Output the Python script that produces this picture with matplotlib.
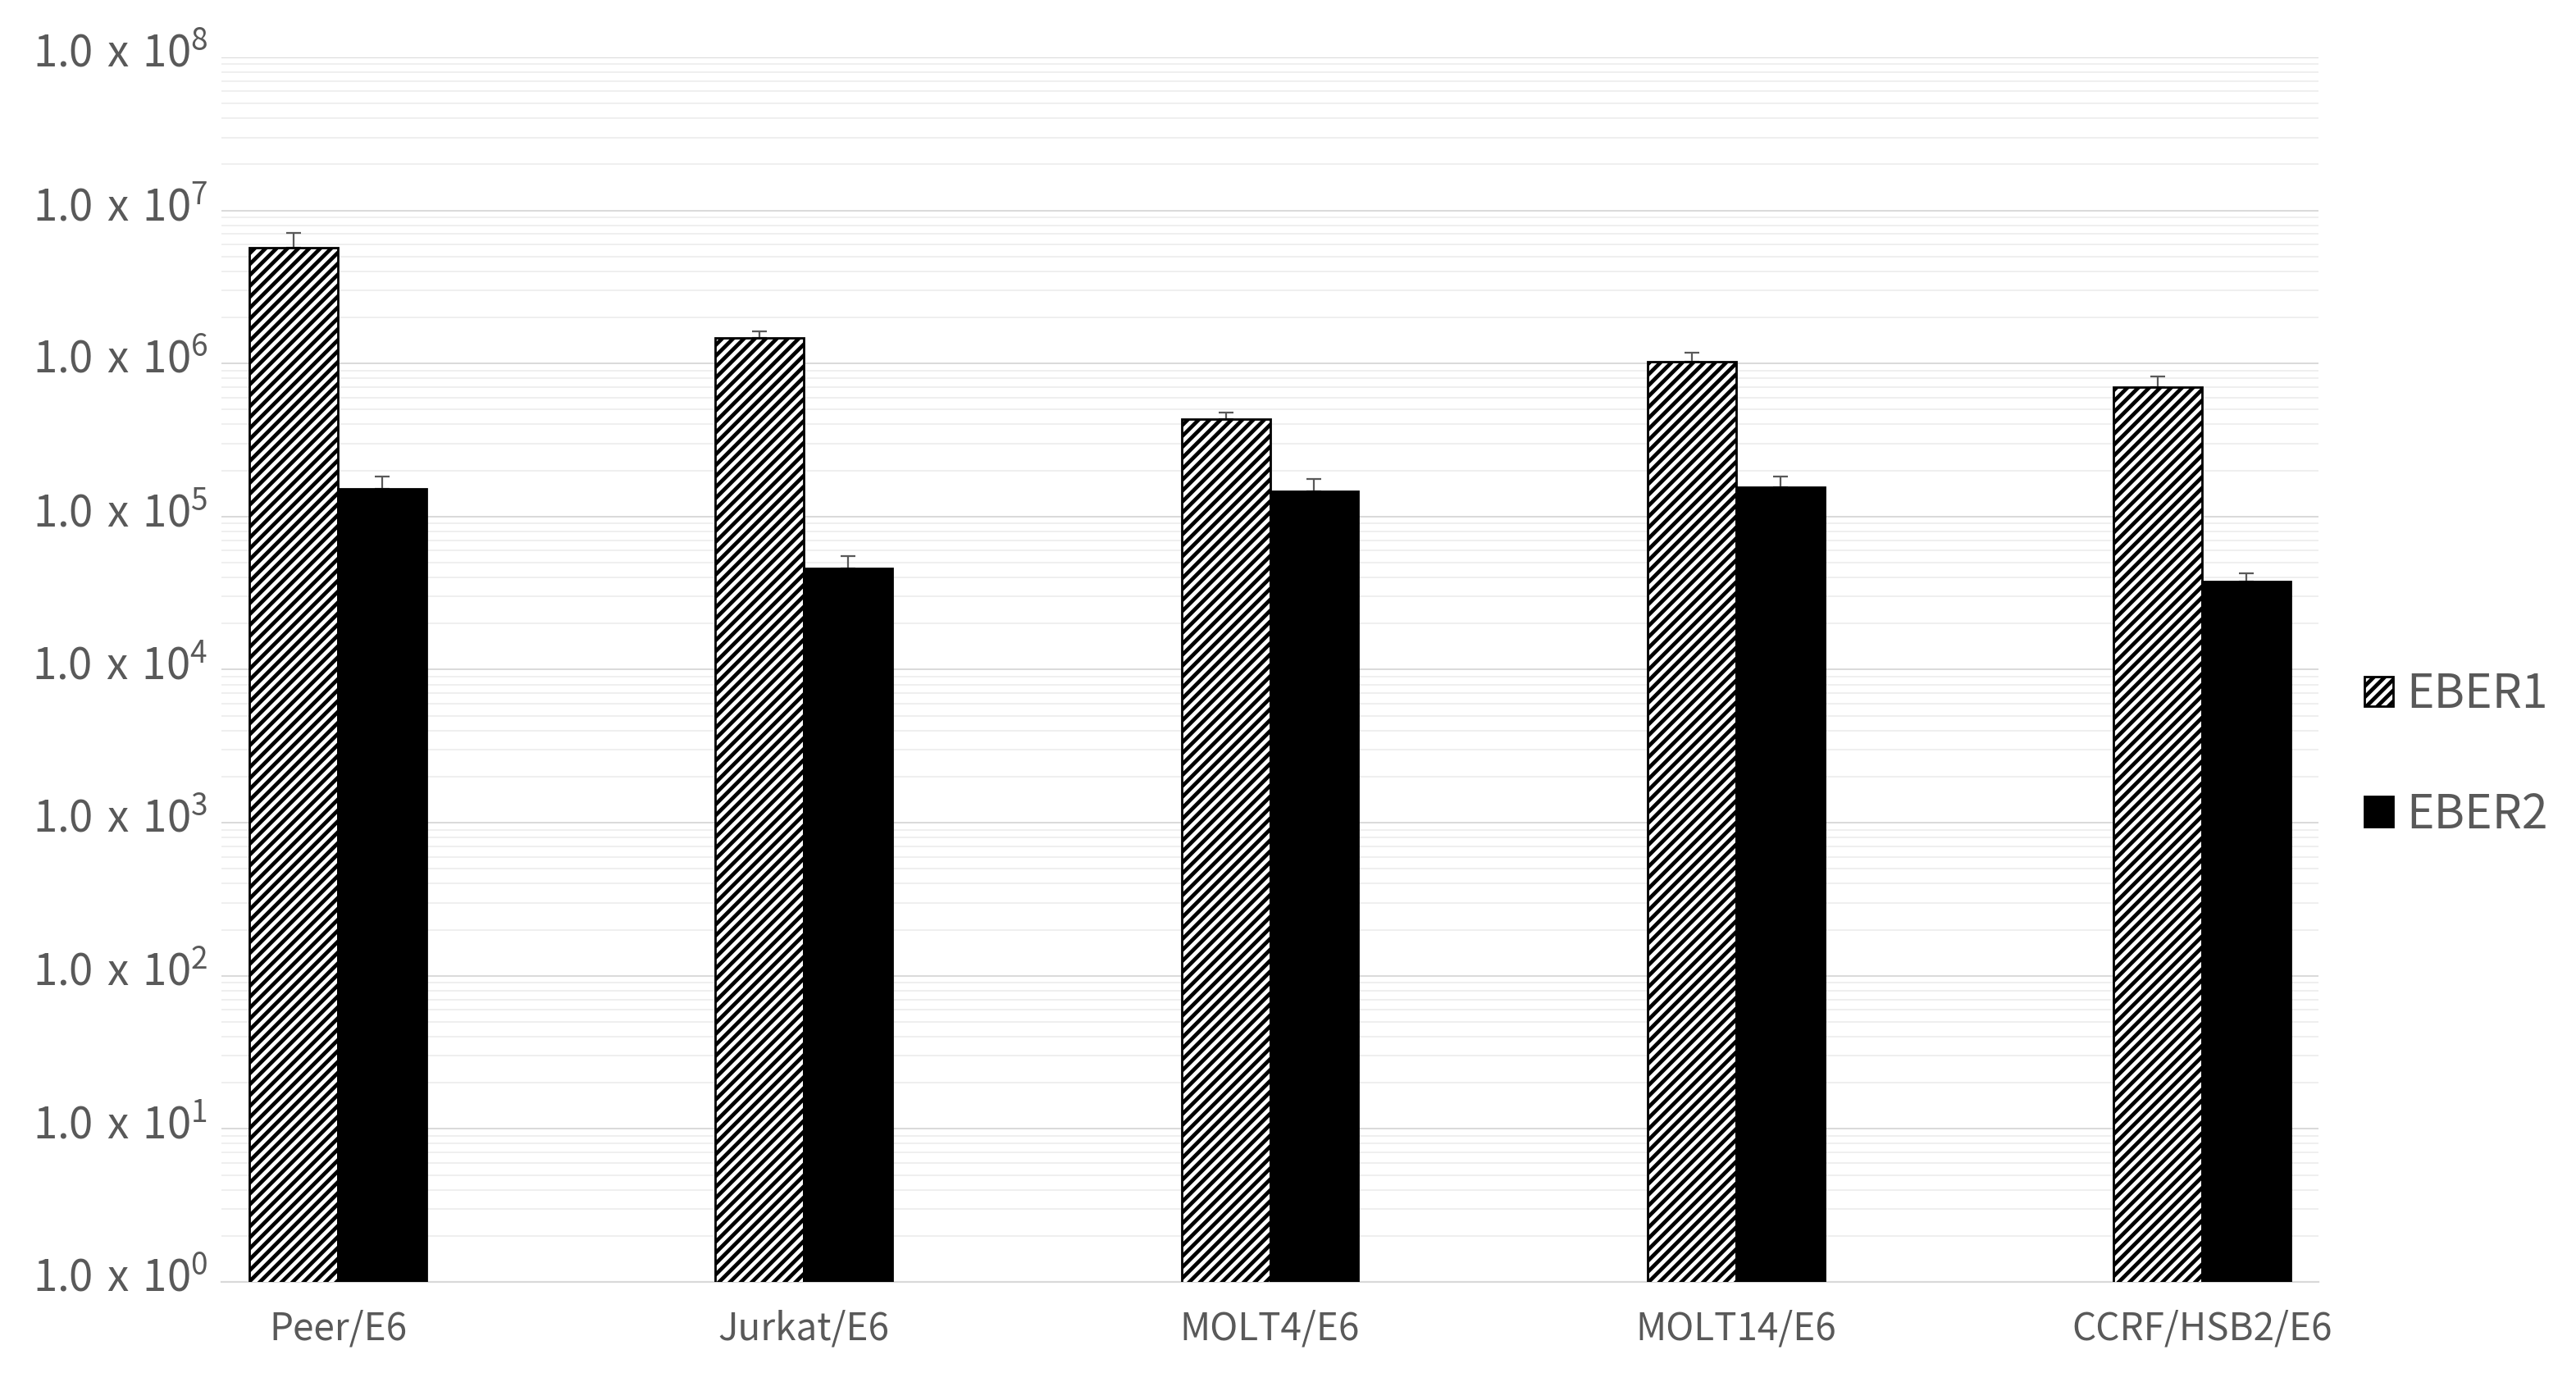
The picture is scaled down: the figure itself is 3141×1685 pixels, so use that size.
import numpy as np
import matplotlib
matplotlib.use('Agg')
from matplotlib import pyplot as plt
from matplotlib.ticker import FixedLocator, FuncFormatter, NullFormatter
from matplotlib.transforms import ScaledTranslation

plt.rcParams['font.family'] = ['Noto Sans CJK JP', 'DejaVu Sans']
plt.rcParams['hatch.linewidth'] = 1.7

cells = ['Peer/E6', 'Jurkat/E6', 'MOLT4/E6', 'MOLT14/E6', 'CCRF/HSB2/E6']
series = ['EBER1', 'EBER2']
eber1 = [5.7e6, 1.47e6, 4.35e5, 1.03e6, 7.0e5]
eber1_err = [1.45e6, 1.6e5, 4.3e4, 1.5e5, 1.2e5]
eber2 = [1.51e5, 4.58e4, 1.46e5, 1.56e5, 3.77e4]
eber2_err = [3.1e4, 9.2e3, 3.0e4, 2.6e4, 4.9e3]
exponents = list(range(0, 9))

grey = '#595959'

fig = plt.figure(figsize=(15.705, 8.425), dpi=200)
ax = fig.add_axes([0.086, 0.0724, 0.814, 0.8861])

x = np.arange(len(cells))
w = 0.19
# bars
b1 = ax.bar(x - w / 2, eber1, w, facecolor='white', edgecolor='black',
            hatch='/////', linewidth=1.0, zorder=3, label=series[0])
b2 = ax.bar(x + w / 2, eber2, w, facecolor='black', edgecolor='black',
            linewidth=1.0, zorder=3, label=series[1])
# only the upper half of the error bar is visible, lower cap sits behind the bar
for xs, v, e in [(x - w / 2, eber1, eber1_err), (x + w / 2, eber2, eber2_err)]:
    ax.errorbar(xs, v, yerr=[np.zeros(len(v)), e], fmt='none', ecolor=grey,
                elinewidth=0.8, capsize=3.2, capthick=0.8, zorder=2)

ax.set_yscale('log')
ax.set_ylim(1, 1e8)
ax.set_xlim(-0.25, len(cells) - 0.75)

major = [10.0 ** k for k in exponents]
minor = [m * 10.0 ** k for k in exponents[:-1] for m in range(2, 10)]
ax.yaxis.set_major_locator(FixedLocator(major))
ax.yaxis.set_minor_locator(FixedLocator(minor))
ax.yaxis.set_minor_formatter(NullFormatter())
ax.yaxis.set_major_formatter(FuncFormatter(
    lambda v, p: r'$\mathregular{1.0\ x\ 10^{%d}}$' % round(np.log10(v))))

ax.grid(which='major', axis='y', color='#d9d9d9', linewidth=0.7, zorder=0)
ax.grid(which='minor', axis='y', color='#efefef', linewidth=0.7, zorder=0)
ax.set_axisbelow(True)

for s in ['top', 'right', 'left']:
    ax.spines[s].set_visible(False)
ax.spines['bottom'].set_color('#d9d9d9')
ax.spines['bottom'].set_linewidth(0.8)

ax.set_xticks(x)
ax.set_xticklabels(cells)
ax.tick_params(axis='x', length=0, pad=12, labelsize=16.5, labelcolor=grey)
ax.tick_params(axis='y', which='both', length=0, pad=6, labelsize=19,
               labelcolor=grey)
# nudge the y labels up a bit, the gridline runs through their lower part
shift = ScaledTranslation(0, 3.5 / 72, fig.dpi_scale_trans)
for t in ax.get_yticklabels():
    t.set_transform(t.get_transform() + shift)

fig.legend(handles=[b1, b2], labels=series, loc='center left',
           bbox_to_anchor=(0.918, 0.454), frameon=False, fontsize=20.5,
           labelcolor=grey, handlelength=0.6, handleheight=0.6,
           handletextpad=0.3, labelspacing=1.55, borderpad=0, borderaxespad=0)

fig.savefig('out.png', dpi=200)
